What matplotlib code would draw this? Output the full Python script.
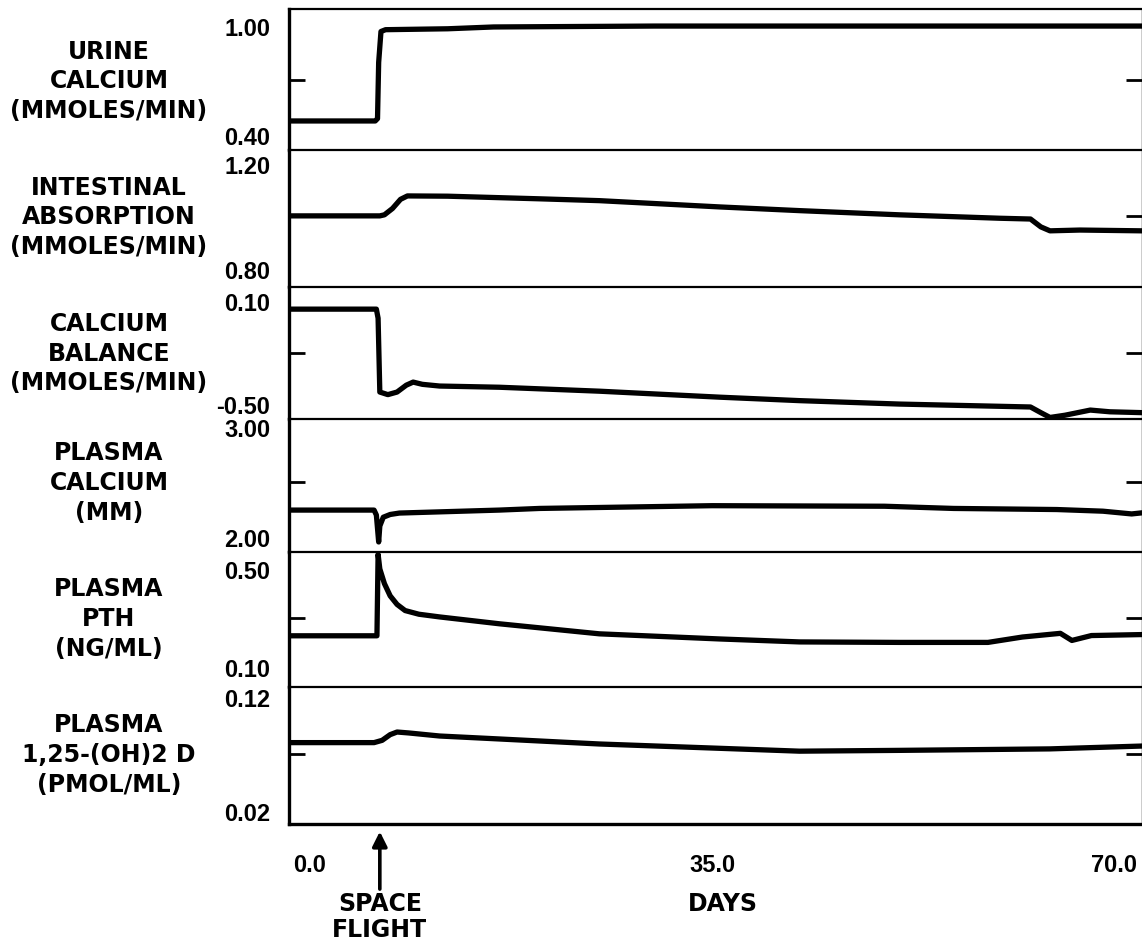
import matplotlib.pyplot as plt
import matplotlib.transforms as mtransforms

# ---- data (days since start) ----
flight_day = 6.1
day_ticks = [0.0, 35.0, 70.0]
day_labels = ['0.0', '35.0', '70.0']

names = ['URINE\nCALCIUM\n(MMOLES/MIN)',
         'INTESTINAL\nABSORPTION\n(MMOLES/MIN)',
         'CALCIUM\nBALANCE\n(MMOLES/MIN)',
         'PLASMA\nCALCIUM\n(MM)',
         'PLASMA\nPTH\n(NG/ML)',
         'PLASMA\n1,25-(OH)2 D\n(PMOL/ML)']
lo_labels = ['0.40', '0.80', '-0.50', '2.00', '0.10', '0.02']
hi_labels = ['1.00', '1.20', '0.10', '3.00', '0.50', '0.12']
lo_vals = [0.40, 0.80, -0.50, 2.00, 0.10, 0.02]
hi_vals = [1.00, 1.20, 0.10, 3.00, 0.50, 0.12]

urine_d = [-1.8, 5.7, 5.9, 6.0, 6.2, 6.6, 12, 16, 30, 50, 72.4]
urine_v = [0.477, 0.477, 0.49, 0.80, 0.97, 0.98, 0.985, 0.995, 1.0, 1.0, 1.0]

absorb_d = [-1.8, 6.1, 6.5, 7.2, 7.9, 8.5, 12, 20, 25.2, 35.7, 42.6, 51.3, 60, 62.7, 63.6,
            64.4, 67, 72.4]
absorb_v = [1.002, 1.002, 1.006, 1.03, 1.065, 1.078, 1.077, 1.067, 1.06, 1.036, 1.022, 1.006,
            0.993, 0.99, 0.96, 0.945, 0.948, 0.945]

balance_d = [-1.8, 5.8, 5.95, 6.1, 6.8, 7.6, 8.4, 9.0, 9.8, 11.3, 16.5, 25.2, 35.7, 42.6,
             51.3, 62.7, 63.6, 64.4, 65.7, 67.9, 69.6, 72.4]
balance_v = [0.053, 0.053, 0.0, -0.43, -0.445, -0.43, -0.39, -0.372, -0.385, -0.395, -0.402,
             -0.425, -0.46, -0.48, -0.50, -0.517, -0.55, -0.578, -0.565, -0.535, -0.545, -0.55]

pcalc_d = [-1.8, 5.6, 5.8, 6.0, 6.1, 6.4, 7.0, 7.8, 16.5, 20, 35, 50, 56, 65, 69, 71.5, 72.4]
pcalc_v = [2.245, 2.245, 2.20, 1.955, 2.10, 2.18, 2.205, 2.218, 2.245, 2.26, 2.285, 2.28,
           2.26, 2.25, 2.235, 2.21, 2.22]

pth_d = [-1.8, 5.85, 5.95, 6.1, 6.5, 7.0, 7.6, 8.3, 9.5, 11.3, 16.5, 25.2, 35.7, 42.6, 51.3,
         59, 62, 65.3, 66.3, 68, 72.4]
pth_v = [0.227, 0.227, 0.56, 0.50, 0.44, 0.39, 0.355, 0.33, 0.315, 0.304, 0.276, 0.235, 0.214,
         0.202, 0.20, 0.20, 0.222, 0.237, 0.208, 0.228, 0.232]

vitd_d = [-1.8, 5.6, 6.3, 7.0, 7.6, 8.6, 11.3, 16.5, 25.2, 35.7, 42.6, 51.3, 64.4, 72.4]
vitd_v = [0.080, 0.080, 0.082, 0.087, 0.0893, 0.0885, 0.0858, 0.0832, 0.0788, 0.075, 0.0725,
          0.0732, 0.0745, 0.077]

series = [(urine_d, urine_v), (absorb_d, absorb_v), (balance_d, balance_v),
          (pcalc_d, pcalc_v), (pth_d, pth_v), (vitd_d, vitd_v)]
ylims = [(0.317, 1.094), (0.731, 1.253), (-0.587, 0.182),
         (1.864, 3.073), (0.018, 0.569), (0.0086, 0.1288)]

num_font = dict(family='Liberation Sans', weight='bold', size=17)
lab_font = dict(family='DejaVu Sans', weight='bold', size=17)

fig = plt.figure(figsize=(11.42, 9.45), dpi=100)
gs = fig.add_gridspec(6, 1, left=289 / 1142, right=1.0, top=1 - 10 / 945,
                      bottom=1 - 825 / 945, hspace=0,
                      height_ratios=[141, 137, 132, 133, 135, 137])

axes = []
for i in range(6):
    ax = fig.add_subplot(gs[i])
    axes.append(ax)
    d, v = series[i]
    ax.plot(d, v, color='black', lw=3.8, solid_joinstyle='round', solid_capstyle='round')
    ax.set_xlim(-1.8, 72.4)
    ax.set_ylim(*ylims[i])

    ax.set_yticks([lo_vals[i], hi_vals[i]])
    ax.set_yticklabels([lo_labels[i], hi_labels[i]], fontdict=num_font)
    mid = (lo_vals[i] + hi_vals[i]) / 2
    ax.set_yticks([mid], minor=True)
    ax.tick_params(axis='y', which='major', length=0, pad=13.5)
    ax.tick_params(axis='y', which='minor', left=True, right=True, direction='in',
                   length=11.5, width=2.0)

    ax.spines['left'].set_linewidth(2.4)
    ax.spines['top'].set_linewidth(1.6)
    ax.spines['right'].set_linewidth(1.0)
    ax.spines['bottom'].set_visible(i == 5)
    ax.spines['bottom'].set_linewidth(2.4)

    trans = mtransforms.blended_transform_factory(fig.transFigure, ax.transData)
    ax.text(109 / 1142, mid, names[i], transform=trans, ha='center', va='center',
            multialignment='center', linespacing=1.3, fontdict=lab_font)

    if i < 5:
        ax.set_xticks([])
    else:
        ax.set_xticks(day_ticks)
        ax.set_xticklabels(day_labels, fontdict=num_font)
        ax.tick_params(axis='x', length=0, pad=21)

bax = axes[-1]
btrans = mtransforms.blended_transform_factory(bax.transData, bax.transAxes)
bax.annotate('', xy=(flight_day, -0.055), xytext=(flight_day, -0.475),
             xycoords=btrans, textcoords=btrans, annotation_clip=False,
             arrowprops=dict(arrowstyle='-|>', lw=2.6, color='black', mutation_scale=22,
                             shrinkA=0, shrinkB=0))
bax.text(flight_day, -0.672, 'SPACE\nFLIGHT', transform=btrans, ha='center', va='center',
         multialignment='center', linespacing=1.1, fontdict=lab_font)
bax.text(35.9, -0.577, 'DAYS', transform=btrans, ha='center', va='center', fontdict=lab_font)

fig.savefig('out.png', dpi=100)
